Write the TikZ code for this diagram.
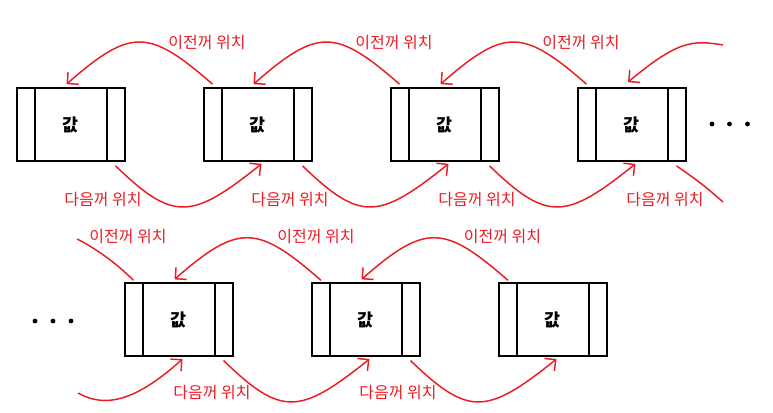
\documentclass[tikz,border=0pt]{standalone}
\usepackage{fontspec}
\newfontfamily\kr{Noto Sans CJK KR}
\usetikzlibrary{calc,arrows.meta}
\definecolor{pred}{RGB}{237,28,36}
\begin{document}
\begin{tikzpicture}[x=0.75pt,y=-0.75pt,
  cell/.style={draw=black, line width=1.5pt, minimum width=81pt, minimum height=54.5pt, inner sep=0pt,
    font=\kr\bfseries\fontsize{13}{15}\selectfont,
    path picture={
      \draw[line width=1.5pt] ([xshift=13.5pt]path picture bounding box.north west) -- ([xshift=13.5pt]path picture bounding box.south west);
      \draw[line width=1.5pt] ([xshift=-13.5pt]path picture bounding box.north east) -- ([xshift=-13.5pt]path picture bounding box.south east);
    }},
  ptr/.style={draw=pred, line width=1.1pt, -{Straight Barb[length=6pt,width=12pt,line width=1.1pt]}},
  free/.style={draw=pred, line width=1.1pt},
  lbl/.style={text=pred, font=\kr\fontsize{12}{14}\selectfont, inner sep=0pt},
  dot/.style={circle, fill=black, minimum size=3.6pt, inner sep=0pt}
]
\useasboundingbox[fill=white] (0,0) rectangle (773,412);

% top row
\node[cell] (t1) at (70.5,124.5) {값};
\node[cell] (t2) at (257.5,124.5) {값};
\node[cell] (t3) at (444.5,124.5) {값};
\node[cell] (t4) at (631.5,124.5) {값};
\node[dot] (td1) at (712,124) {};
\node[dot] (td2) at (729.5,124) {};
\node[dot] (td3) at (747.5,124) {};

% bottom row
\node[cell] (b1) at (178.5,319.7) {값};
\node[cell] (b2) at (365.5,319.7) {값};
\node[cell] (b3) at (552.5,319.7) {값};
\node[dot] (bd1) at (35,321) {};
\node[dot] (bd2) at (53,321) {};
\node[dot] (bd3) at (71,321) {};

% top row: previous pointers
\draw[ptr] ($(t2.north west)+(10,-3)$) .. controls +(-64,-56) and +(64,-56) .. ($(t1.north)+(-4,-3)$);
\draw[ptr] ($(t3.north west)+(10,-3)$) .. controls +(-64,-56) and +(64,-56) .. ($(t2.north)+(-4,-3)$);
\draw[ptr] ($(t4.north west)+(10,-3)$) .. controls +(-64,-56) and +(64,-56) .. ($(t3.north)+(-4,-3)$);
\coordinate (tin) at (723,45);
\draw[ptr] (tin) .. controls +(-30,-5) and +(50,-42) .. ($(t4.north)+(-3.5,-5)$);
\node[lbl] (lp1) at (207,43) {이전꺼 위치};
\node[lbl] (lp2) at (394,43) {이전꺼 위치};
\node[lbl] (lp3) at (581,42.5) {이전꺼 위치};

% top row: next pointers
\draw[ptr] ($(t1.south east)+(-10,4)$) .. controls +(58,56) and +(-70,56) .. ($(t2.south)+(4,2)$);
\draw[ptr] ($(t2.south east)+(-10,4)$) .. controls +(58,56) and +(-70,56) .. ($(t3.south)+(4,2)$);
\draw[ptr] ($(t3.south east)+(-10,4)$) .. controls +(58,56) and +(-70,56) .. ($(t4.south)+(4,2)$);
\coordinate (tout) at (723,202);
\draw[free] ($(t4.south east)+(-10,4)$) .. controls +(20,14) and +(-18,-16) .. (tout);
\node[lbl] (ln1) at (103,200) {다음꺼 위치};
\node[lbl] (ln2) at (290,200) {다음꺼 위치};
\node[lbl] (ln3) at (477,200) {다음꺼 위치};
\node[lbl] (ln4) at (665,200) {다음꺼 위치};

% bottom row: previous pointers
\coordinate (bout) at (77,239);
\draw[free] ($(b1.north west)+(10,-2)$) .. controls +(-18,-18) and +(18,9) .. (bout);
\draw[ptr] ($(b2.north west)+(10.5,-2)$) .. controls +(-64,-56) and +(64,-56) .. ($(b1.north)+(-4,-3)$);
\draw[ptr] ($(b3.north west)+(10.5,-2)$) .. controls +(-64,-56) and +(64,-56) .. ($(b2.north)+(-4,-3)$);
\node[lbl] (mp1) at (128,237) {이전꺼 위치};
\node[lbl] (mp2) at (316,237) {이전꺼 위치};
\node[lbl] (mp3) at (502.5,237) {이전꺼 위치};

% bottom row: next pointers
\coordinate (bin) at (78,393);
\draw[ptr] (bin) .. controls +(25,14) and +(-50,45) .. ($(b1.south)+(4,2)$);
\draw[ptr] ($(b1.south east)+(-10,3.5)$) .. controls +(58,56) and +(-70,56) .. ($(b2.south)+(4,2)$);
\draw[ptr] ($(b2.south east)+(-10,3.5)$) .. controls +(58,56) and +(-70,56) .. ($(b3.south)+(4,2)$);
\node[lbl] (mn1) at (212,393) {다음꺼 위치};
\node[lbl] (mn2) at (398,393) {다음꺼 위치};
\end{tikzpicture}
\end{document}
